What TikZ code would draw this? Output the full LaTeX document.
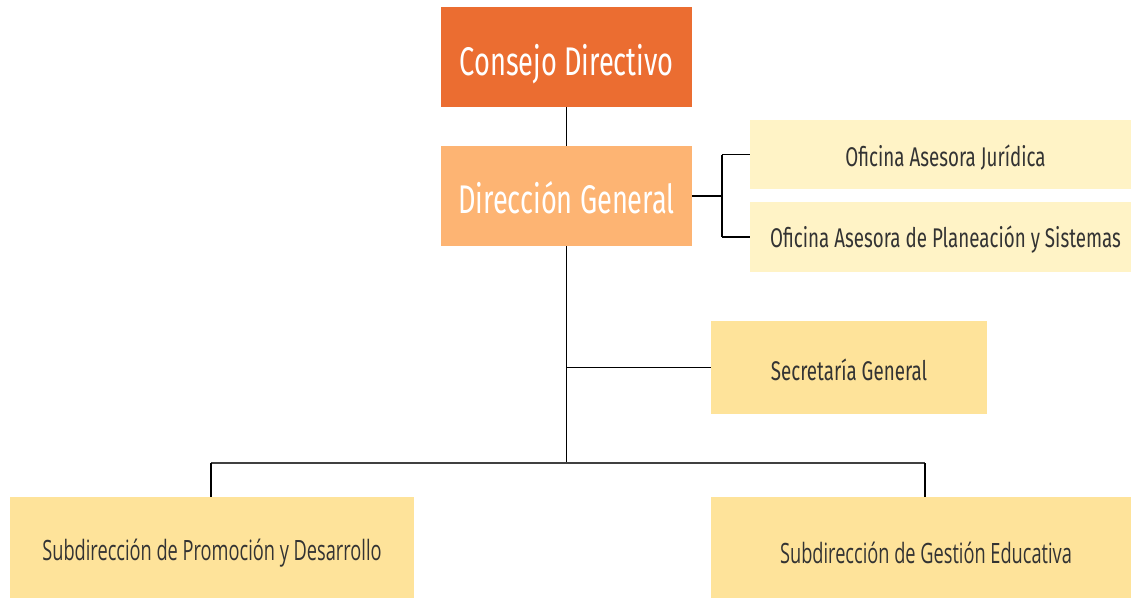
\documentclass[tikz,border=0pt]{standalone}
\usepackage{fontspec}
\newfontfamily\dosis[FakeStretch=0.68]{Fira Sans}
\newfontfamily\dosisn[FakeStretch=0.695]{Fira Sans}
\newfontfamily\osc[FakeStretch=0.65]{Open Sans}
\definecolor{cdorange}{HTML}{EB6D31}
\definecolor{dgorange}{HTML}{FDB473}
\definecolor{palecream}{HTML}{FFF3C6}
\definecolor{cream}{HTML}{FEE39A}
\definecolor{txtgray}{HTML}{333333}
\newcommand{\lowertext}[2]{\raisebox{-#1}[\height][\depth]{#2}}
\tikzset{
  box/.style={rectangle, inner sep=0pt, outer sep=0pt, anchor=center},
  bigbox/.style={box, minimum width=251pt, minimum height=100pt, text=white, font=\dosis\fontsize{40}{44}\selectfont},
  smallbox/.style={box, text=txtgray, font=\dosisn\fontsize{27}{30}\selectfont},
  subbox/.style={box, text=txtgray, font=\osc\fontsize{28}{30}\selectfont},
  link/.style={draw=black, line width=1.3pt},
}
\begin{document}
\begin{tikzpicture}[x=1pt,y=-1pt]
\useasboundingbox (0,0) rectangle (1131,597);
\clip (0,0) rectangle (1131,597);
\node[bigbox, fill=cdorange] (cd) at (566.5,57) {\lowertext{7pt}{Consejo Directivo}};
\node[bigbox, fill=dgorange] (dg) at (566.5,196) {\lowertext{2pt}{Dirección General}};
\node[smallbox, fill=palecream, minimum width=391pt, minimum height=69pt] (oj) at (945.5,154.5) {\lowertext{3pt}{Oficina Asesora Jurídica}};
\node[smallbox, fill=palecream, minimum width=391pt, minimum height=70pt] (op) at (945.5,237) {\lowertext{3pt}{Oficina Asesora de Planeación y Sistemas}};
\node[smallbox, fill=cream, minimum width=276pt, minimum height=93pt] (sg) at (849,367.5) {\lowertext{2pt}{Secretaría General}};
\node[subbox, fill=cream, minimum width=404pt, minimum height=110pt] (sp) at (212,552) {\lowertext{1pt}{Subdirección de Promoción y Desarrollo}};
\node[subbox, fill=cream, minimum width=430pt, minimum height=110pt] (se) at (926,552) {\lowertext{1pt}{Subdirección de Gestión Educativa}};
\coordinate (ra) at (722,196);
\coordinate (bus) at (566.5,463);
\coordinate (busl) at (211,463);
\coordinate (busr) at (925,463);
\draw[link] (cd.south) -- (dg.north);
\draw[link] (dg.east) -- (ra);
\draw[link] (ra |- oj.west) -- (oj.west);
\draw[link] (ra |- op.west) -- (op.west);
\draw[link] (ra |- oj.west) -- (ra |- op.west);
\draw[link] (dg.south) -- (bus);
\draw[link] (dg.south |- sg.west) -- (sg.west);
\draw[draw=black!75, line width=2.5pt] (busl) -- (busr);
\draw[link] (busl) -- (busl |- sp.north);
\draw[link] (busr) -- (busr |- se.north);
\end{tikzpicture}
\end{document}
